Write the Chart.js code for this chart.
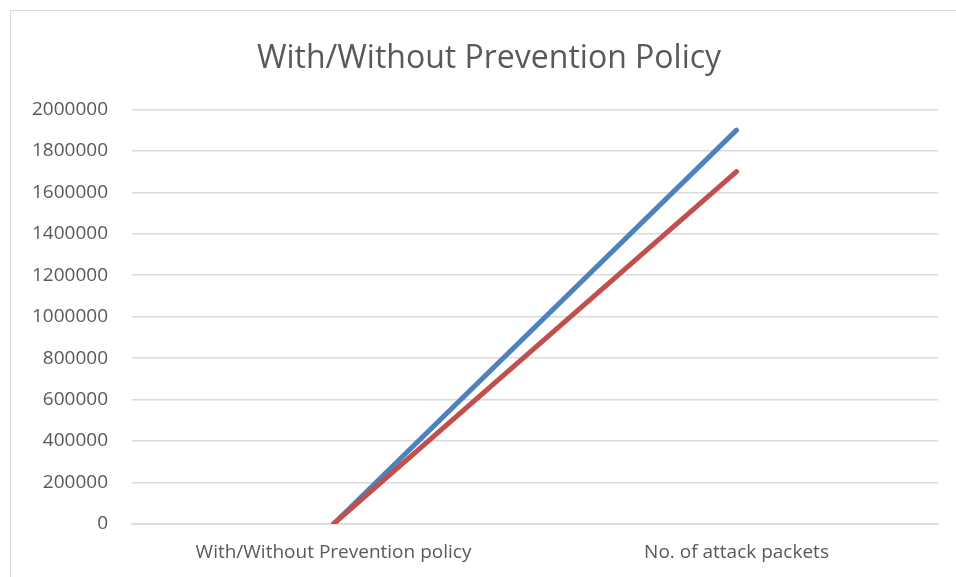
<!DOCTYPE html>
<html>
<head>
<meta charset="utf-8">
<script src="https://cdn.jsdelivr.net/npm/chart.js@4"></script>
<style>
    html, body { margin: 0; padding: 0; background: #fff; }
    body { width: 956px; height: 577px; overflow: hidden; position: relative; }
    .frame {
        position: absolute; left: 10px; top: 10px; width: 960px; height: 580px;
        border-left: 1px solid #d9d9d9; border-top: 1px solid #d9d9d9;
    }
    .wrap { position: absolute; left: 10px; top: 10px; width: 958px; height: 567px; }
</style>
</head>
<body>
<div class="frame"></div>
<div class="wrap"><canvas id="grafico"></canvas></div>
<script>
// dados do gráfico
const categorias = ['With/Without Prevention policy', 'No. of attack packets'];
const serieAzul = [0, 1900000];
const serieVermelha = [0, 1700000];
const ticksY = [0, 200000, 400000, 600000, 800000, 1000000, 1200000, 1400000, 1600000, 1800000, 2000000];

const FONTE = "'Open Sans', 'Noto Sans', sans-serif";
const CINZA_TEXTO = '#595959';
const CINZA_GRADE = '#d9d9d9';

const ctx = document.getElementById('grafico').getContext('2d');
new Chart(ctx, {
    type: 'line',
    data: {
        labels: categorias,
        datasets: [
            {
                label: 'Series1',
                data: serieAzul,
                borderColor: '#4f81bd',
                borderWidth: 5,
                borderCapStyle: 'round',
                pointRadius: 0,
                tension: 0,
                order: 1
            },
            {
                label: 'Series2',
                data: serieVermelha,
                borderColor: '#c0504d',
                borderWidth: 5,
                borderCapStyle: 'round',
                pointRadius: 0,
                tension: 0,
                order: 0
            }
        ]
    },
    options: {
        responsive: true,
        maintainAspectRatio: false,
        animation: false,
        layout: { padding: 0 },
        plugins: {
            legend: { display: false },
            tooltip: { enabled: false },
            title: {
                display: true,
                text: 'With/Without Prevention Policy',
                color: CINZA_TEXTO,
                font: { family: FONTE, size: 32, weight: 'normal' },
                padding: { top: 30, bottom: 31 }
            }
        },
        scales: {
            x: {
                offset: true,
                grid: { display: false, drawTicks: false },
                border: { display: true, color: CINZA_GRADE, width: 1.5 },
                ticks: {
                    color: CINZA_TEXTO,
                    font: { family: FONTE, size: 19 },
                    padding: 17,
                    maxRotation: 0
                },
                afterFit: (scale) => { scale.height = 53; }
            },
            y: {
                min: 0,
                max: 2000000,
                afterBuildTicks: (scale) => { scale.ticks = ticksY.map(v => ({ value: v })); },
                grid: { color: CINZA_GRADE, lineWidth: 1.5, drawTicks: false },
                border: { display: false },
                ticks: {
                    color: CINZA_TEXTO,
                    font: { family: FONTE, size: 19 },
                    padding: 24,
                    callback: (v) => String(v)
                },
                afterFit: (scale) => { scale.width = 122; }
            },
            // eixo vazio só para reservar a margem direita sem deslocar o título
            margem: {
                type: 'linear',
                position: 'right',
                grid: { display: false, drawTicks: false },
                border: { display: false },
                ticks: { display: false },
                afterFit: (scale) => { scale.width = 30; }
            }
        }
    }
});
</script>
</body>
</html>
